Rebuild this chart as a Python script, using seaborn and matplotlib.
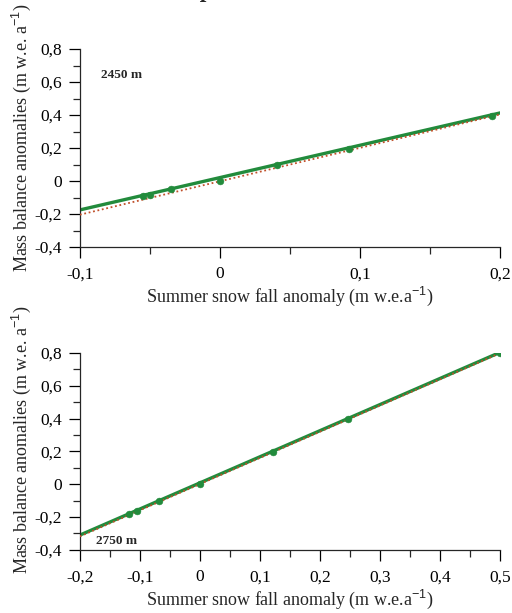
import numpy as np
import pandas as pd
import seaborn as sns
import matplotlib.pyplot as plt
from matplotlib.ticker import MultipleLocator, FuncFormatter

# 2450 m station: observed anomalies
x_2450 = [-0.055, -0.050, -0.035, 0.0, 0.041, 0.092, 0.194]
y_2450 = [-0.092, -0.082, -0.049, 0.0, 0.098, 0.196, 0.396]
# fitted line (green) and reference line (red dotted), end points
fit_x_2450 = [-0.1, 0.2]
fit_y_2450 = [-0.175, 0.413]
ref_x_2450 = [-0.1, 0.2]
ref_y_2450 = [-0.204, 0.404]

# 2750 m station
x_2750 = [-0.118, -0.105, -0.068, 0.0, 0.122, 0.247, 0.5]
y_2750 = [-0.182, -0.162, -0.105, 0.0, 0.198, 0.397, 0.803]
fit_x_2750 = [-0.2, 0.5]
fit_y_2750 = [-0.310, 0.805]
ref_x_2750 = [-0.2, 0.5]
ref_y_2750 = [-0.318, 0.800]

sns.set_style("ticks")
plt.rcParams['font.family'] = ['Liberation Serif', 'DejaVu Serif']
plt.rcParams['mathtext.fontset'] = 'custom'
plt.rcParams['mathtext.rm'] = 'Liberation Sans'

green = "#228b3c"
red = "#c0502a"

fig = plt.figure(figsize=(5.12, 6.13), dpi=100)
ax1 = fig.add_axes([0.156, 0.597, 0.821, 0.323])
ax2 = fig.add_axes([0.156, 0.103, 0.821, 0.321])

comma = FuncFormatter(lambda v, p: "0" if abs(v) < 1e-9 else f"{v:.1f}".replace(".", ","))

ylab = r"Mass balance anomalies (m w.e. a$^{-1}$)"
xlab = r"Summer snow fall anomaly (m w.e.a$^{-1}$)"

panels = [
    (ax1, x_2450, y_2450, fit_x_2450, fit_y_2450, ref_x_2450, ref_y_2450,
     (-0.1, 0.2), "2450 m", (-0.085, 0.64), 0.55),
    (ax2, x_2750, y_2750, fit_x_2750, fit_y_2750, ref_x_2750, ref_y_2750,
     (-0.2, 0.5), "2750 m", (-0.173, -0.345), 0.56),
]

for ax, xs, ys, fx, fy, rx, ry, xlim, label, pos, ly in panels:
    sns.lineplot(x=fx, y=fy, ax=ax, color=green, linewidth=2.4, zorder=2)
    sns.lineplot(x=rx, y=ry, ax=ax, color=red, linewidth=1.3, linestyle=(0, (1, 1.5)), zorder=3)
    sns.scatterplot(x=xs, y=ys, ax=ax, color=green, s=24, edgecolor=green, zorder=4)
    ax.set_xlim(*xlim)
    ax.set_ylim(-0.4, 0.8)
    ax.xaxis.set_major_locator(MultipleLocator(0.1))
    ax.xaxis.set_minor_locator(MultipleLocator(0.05))
    ax.yaxis.set_major_locator(MultipleLocator(0.2))
    ax.yaxis.set_minor_locator(MultipleLocator(0.1))
    ax.xaxis.set_major_formatter(comma)
    ax.yaxis.set_major_formatter(comma)
    ax.tick_params(which='major', direction='out', length=8, width=0.9, labelsize=12.5, colors='black')
    ax.tick_params(which='minor', direction='out', length=5, width=0.9)
    ax.tick_params(axis='x', pad=6)
    ax.tick_params(axis='y', pad=5)
    for s in ['top', 'right']:
        ax.spines[s].set_visible(False)
    for s in ['left', 'bottom']:
        ax.spines[s].set_linewidth(0.9)
    ax.set_xlabel(xlab, fontsize=13, labelpad=2)
    ax.set_ylabel(ylab, fontsize=13)
    ax.yaxis.set_label_coords(-0.112, ly)
    ax.text(pos[0], pos[1], label, fontsize=9.5, fontweight='bold', va='center', ha='left')

# clipped line of the surrounding page text
fig.text(30 / 512, 1 + 2.5 / 613, "The results are reported below.", fontsize=17,
         style='italic', fontweight='bold', va='baseline', ha='left')

fig.savefig("out.png", dpi=100)
